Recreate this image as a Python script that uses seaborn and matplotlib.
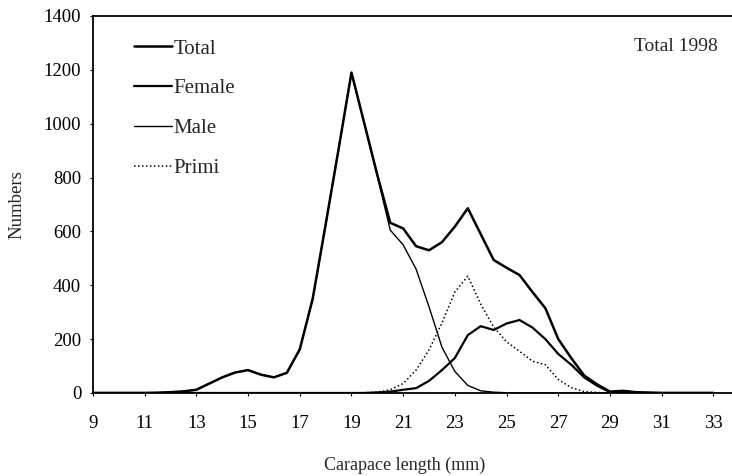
import matplotlib

matplotlib.use("Agg")

import matplotlib.pyplot as plt
import pandas as pd
import seaborn as sns

# carapace length classes (mm), 0.5 mm steps
lengths = [9.0, 9.5, 10.0, 10.5, 11.0, 11.5, 12.0, 12.5, 13.0, 13.5,
           14.0, 14.5, 15.0, 15.5, 16.0, 16.5, 17.0, 17.5, 18.0, 18.5,
           19.0, 19.5, 20.0, 20.5, 21.0, 21.5, 22.0, 22.5, 23.0, 23.5,
           24.0, 24.5, 25.0, 25.5, 26.0, 26.5, 27.0, 27.5, 28.0, 28.5,
           29.0, 29.5, 30.0, 30.5, 31.0, 31.5, 32.0, 32.5, 33.0]

total = [0, 0, 0, 0, 0, 1, 3, 6, 12, 35,
         58, 76, 85, 68, 58, 75, 162, 350, 625, 905,
         1190, 1000, 810, 632, 611, 545, 530, 560, 618, 686,
         590, 494, 465, 438, 375, 315, 200, 130, 65, 32,
         5, 8, 3, 1, 0, 0, 0, 0, 0]

female = [0, 0, 0, 0, 0, 0, 0, 0, 0, 0,
          0, 0, 0, 0, 0, 0, 0, 0, 0, 0,
          0, 0, 2, 5, 12, 18, 45, 85, 130, 215,
          248, 234, 258, 271, 243, 200, 145, 105, 58, 27,
          3, 6, 2, 1, 0, 0, 0, 0, 0]

male = [0, 0, 0, 0, 0, 1, 3, 6, 12, 35,
        58, 76, 85, 68, 58, 75, 162, 350, 625, 905,
        1188, 998, 805, 605, 550, 460, 320, 170, 80, 28,
        8, 3, 1, 0, 0, 0, 0, 0, 0, 0,
        0, 0, 0, 0, 0, 0, 0, 0, 0]

primi = [0, 0, 0, 0, 0, 0, 0, 0, 0, 0,
         0, 0, 0, 0, 0, 0, 0, 0, 0, 0,
         0, 1, 3, 12, 35, 85, 160, 260, 375, 434,
         330, 245, 190, 155, 118, 105, 50, 20, 5, 2,
         0, 0, 0, 0, 0, 0, 0, 0, 0]

x_ticks = [9, 11, 13, 15, 17, 19, 21, 23, 25, 27, 29, 31, 33]
y_ticks = [0, 200, 400, 600, 800, 1000, 1200, 1400]

sns.set_theme(style="ticks")
plt.rcParams["font.family"] = ["Liberation Serif", "DejaVu Serif"]

df = pd.DataFrame({"length": lengths, "Total": total, "Female": female,
                   "Male": male, "Primi": primi})

styles = {
    "Total": dict(linewidth=1.8, linestyle="-"),
    "Female": dict(linewidth=1.6, linestyle="-"),
    "Male": dict(linewidth=1.0, linestyle="-"),
    "Primi": dict(linewidth=1.1, linestyle=(0, (1, 1.6))),
}

fig = plt.figure(figsize=(7.32, 4.76), dpi=100)
ax = fig.add_axes([0.127, 0.1744, 0.873, 0.792])

for name in ["Total", "Female", "Male", "Primi"]:
    sns.lineplot(data=df, x="length", y=name, ax=ax, color="black",
                 label=name, **styles[name])

ax.set_xlim(9, 33.72)
ax.set_ylim(0, 1400)
ax.set_xticks(x_ticks)
ax.set_yticks(y_ticks)
ax.tick_params(axis="both", labelsize=13.5, length=2.5, width=0.8,
               direction="out", color="black", labelcolor="black")
ax.tick_params(axis="x", pad=13)
ax.tick_params(axis="y", pad=6)

for side in ["left", "bottom", "top"]:
    ax.spines[side].set_linewidth(1.3)
    ax.spines[side].set_color("black")
ax.spines["right"].set_visible(False)

ax.set_xlabel("Carapace length (mm)", fontsize=13)
ax.set_ylabel("Numbers", fontsize=13.5)
ax.xaxis.set_label_coords(0.487, -0.17)
ax.yaxis.set_label_coords(-0.106, 0.5)

ax.text(0.978, 0.918, "Total 1998", transform=ax.transAxes,
        ha="right", va="center", fontsize=14)

ax.legend(loc="upper left", bbox_to_anchor=(0.058, 0.95), frameon=False,
          fontsize=15, handlelength=1.8, handletextpad=0.1,
          labelspacing=0.97, borderaxespad=0, borderpad=0.2)

fig.savefig("out.png", dpi=100)
plt.close(fig)
